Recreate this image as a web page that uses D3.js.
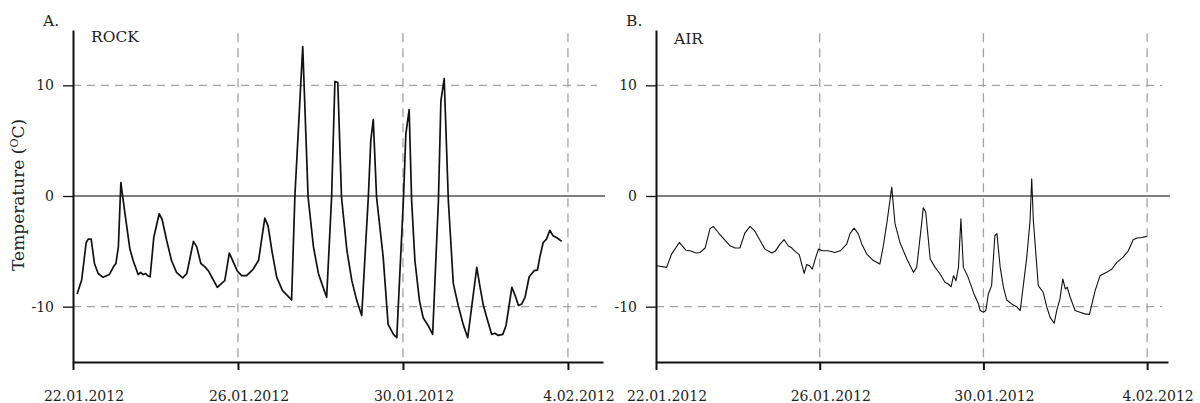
<!DOCTYPE html>
<html>
<head>
<meta charset="utf-8">
<script src="https://cdn.jsdelivr.net/npm/d3@7"></script>
<style>
  body { margin: 0; background: #fff; }
  svg { display: block; font-family: "DejaVu Serif", serif; }
  .axis path, .axis line { stroke: #111; }
  .axis text { font-family: "DejaVu Serif", serif; fill: #222; }
</style>
</head>
<body>
<script>
// days since 22.01.2012 (as spaced on the original axis) and temperature
var rockDay = [0.10,0.21,0.32,0.37,0.44,0.52,0.61,0.73,0.88,0.98,1.04,1.10,1.16,1.26,1.38,1.46,1.58,1.64,1.70,1.76,1.81,1.87,1.96,2.09,2.16,2.27,2.39,2.51,2.66,2.76,2.92,3.00,3.10,3.20,3.28,3.39,3.50,3.63,3.68,3.79,3.89,3.98,4.09,4.21,4.37,4.50,4.65,4.73,4.82,4.94,5.08,5.20,5.30,5.38,5.57,5.70,5.83,5.95,6.05,6.15,6.27,6.35,6.42,6.51,6.64,6.76,6.88,7.00,7.16,7.22,7.28,7.36,7.52,7.64,7.77,7.85,8.01,8.07,8.15,8.21,8.29,8.40,8.49,8.61,8.72,8.86,8.92,9.00,9.10,9.22,9.34,9.46,9.57,9.79,9.87,9.95,10.04,10.15,10.23,10.31,10.42,10.50,10.64,10.72,10.80,10.88,10.96,11.06,11.18,11.26,11.32,11.40,11.48,11.56,11.64,11.74,11.85];
var rockTemp = [-8.85,-7.6,-4.2,-3.9,-3.9,-6.1,-7.0,-7.35,-7.1,-6.4,-6.1,-4.6,1.2,-1.6,-4.8,-5.85,-7.1,-6.9,-7.1,-7.0,-7.2,-7.3,-3.7,-1.6,-2.1,-4.0,-5.85,-6.9,-7.4,-7.0,-4.1,-4.6,-6.1,-6.4,-6.75,-7.5,-8.25,-7.8,-7.65,-5.15,-6.0,-6.75,-7.2,-7.2,-6.6,-5.8,-2.0,-2.7,-4.9,-7.35,-8.55,-9.0,-9.4,0.0,13.5,-0.1,-4.6,-7.0,-8.1,-9.15,-0.1,10.35,10.25,-0.1,-4.9,-7.65,-9.45,-10.8,-0.1,5.0,6.9,-0.1,-5.5,-11.6,-12.5,-12.8,-0.4,5.6,7.8,-0.4,-5.85,-9.45,-11.0,-11.7,-12.5,-0.4,8.6,10.6,-0.4,-7.9,-9.9,-11.6,-12.8,-6.45,-8.25,-9.9,-11.1,-12.5,-12.4,-12.6,-12.5,-11.7,-8.25,-9.0,-9.9,-9.75,-9.15,-7.3,-6.75,-6.7,-5.5,-4.2,-3.9,-3.1,-3.6,-3.8,-4.1];

var airDay = [0.02,0.26,0.38,0.57,0.73,0.83,0.98,1.08,1.20,1.32,1.40,1.52,1.64,1.81,1.93,2.05,2.17,2.30,2.42,2.54,2.66,2.83,2.91,3.03,3.13,3.23,3.32,3.40,3.50,3.56,3.62,3.68,3.75,3.82,3.89,3.97,4.06,4.21,4.37,4.50,4.66,4.74,4.84,4.94,5.03,5.15,5.30,5.47,5.55,5.65,5.76,5.84,5.96,6.13,6.25,6.29,6.37,6.49,6.53,6.59,6.70,6.82,6.94,7.06,7.14,7.21,7.27,7.33,7.39,7.45,7.51,7.61,7.67,7.77,7.88,7.92,8.00,8.06,8.12,8.20,8.28,8.33,8.41,8.49,8.57,8.69,8.81,8.90,9.06,9.14,9.18,9.22,9.34,9.46,9.55,9.63,9.73,9.79,9.87,9.94,10.00,10.05,10.12,10.24,10.36,10.48,10.59,10.73,10.85,11.01,11.14,11.26,11.42,11.54,11.66,11.75,11.87,11.99];
var airTemp = [-6.3,-6.45,-5.25,-4.2,-4.9,-4.95,-5.15,-5.1,-4.7,-2.95,-2.75,-3.3,-3.8,-4.5,-4.7,-4.7,-3.35,-2.75,-3.2,-4.0,-4.8,-5.15,-5.0,-4.35,-3.95,-4.5,-4.7,-5.0,-5.3,-6.15,-7.0,-6.2,-6.3,-6.6,-5.7,-4.8,-4.95,-4.95,-5.1,-4.95,-4.35,-3.4,-2.9,-3.4,-4.35,-5.25,-5.8,-6.15,-4.6,-2.2,0.8,-2.5,-4.2,-5.7,-6.6,-6.9,-6.45,-2.5,-1.07,-1.45,-5.7,-6.45,-7.05,-7.8,-7.95,-8.2,-7.2,-7.65,-6.45,-2.05,-6.45,-7.2,-7.8,-8.85,-9.75,-10.35,-10.5,-10.35,-8.85,-8.1,-3.57,-3.4,-6.45,-8.25,-9.4,-9.75,-10.0,-10.35,-5.5,-2.2,1.55,-2.2,-8.1,-8.7,-10.05,-10.97,-11.5,-10.35,-9.3,-7.5,-8.4,-8.25,-9.15,-10.35,-10.5,-10.65,-10.7,-8.55,-7.2,-6.9,-6.6,-6.0,-5.5,-4.95,-3.95,-3.8,-3.75,-3.65];

var xTicks = [0, 4, 8, 12];
var xTickLabels = ["22.01.2012", "26.01.2012", "30.01.2012", "4.02.2012"];
var yTicks = [-10, 0, 10];
var yGrid = [-10, 10];

var width = 1200, height = 403;

var svg = d3
  .select("body")
  .append("svg")
  .attr("width", width)
  .attr("height", height);

// shared y scale
var y = d3.scaleLinear().domain([-15, 15]).range([362, 30]);

const drawPanel = (x, days, temps, letter, name, lineWidth) => {
  var g = svg.append("g");
  var x0 = x.range()[0], x1 = x.range()[1];

  // dashed grid
  g.selectAll(".vgrid")
    .data(xTicks.slice(1))
    .enter()
    .append("line")
    .attr("x1", (d) => x(d))
    .attr("x2", (d) => x(d))
    .attr("y1", y(14.7))
    .attr("y2", y(-15))
    .attr("stroke", "#a3a3a3")
    .attr("stroke-width", 1.3)
    .attr("stroke-dasharray", "9,6");

  g.selectAll(".hgrid")
    .data(yGrid)
    .enter()
    .append("line")
    .attr("x1", x0)
    .attr("x2", x1 - 6)
    .attr("y1", (d) => y(d))
    .attr("y2", (d) => y(d))
    .attr("stroke", "#a3a3a3")
    .attr("stroke-width", 1.3)
    .attr("stroke-dasharray", "8,6");

  // zero line
  g.append("line")
    .attr("x1", x0)
    .attr("x2", x1 + 2)
    .attr("y1", y(0))
    .attr("y2", y(0))
    .attr("stroke", "#555")
    .attr("stroke-width", 1.4);

  // axes
  var xAxis = g
    .append("g")
    .attr("class", "axis")
    .attr("transform", "translate(0," + y(-15) + ")")
    .call(
      d3.axisBottom(x)
        .tickValues(xTicks)
        .tickSize(8)
        .tickSizeOuter(0)
        .tickFormat((d, i) => xTickLabels[i])
    );
  xAxis.select(".domain").attr("stroke-width", 2.2);
  xAxis.selectAll(".tick line").attr("stroke-width", 2);
  xAxis.selectAll("text")
    .attr("font-size", 14)
    .attr("y", 39)
    .attr("dy", 0)
    .attr("dx", 10.5);

  var yAxis = g
    .append("g")
    .attr("class", "axis")
    .attr("transform", "translate(" + x0 + ",0)")
    .call(
      d3.axisLeft(y)
        .tickValues(yTicks)
        .tickSize(10)
        .tickSizeOuter(0)
        .tickPadding(9)
        .tickFormat((d) => String(d))
    );
  yAxis.select(".domain").attr("stroke-width", 2);
  yAxis.selectAll(".tick line").attr("stroke-width", 1.3);
  yAxis.selectAll("text").attr("font-size", 14);

  // series line
  var line = d3
    .line()
    .x((d, i) => x(days[i]))
    .y((d) => y(d));

  g.append("path")
    .datum(temps)
    .attr("fill", "none")
    .attr("stroke", "#111")
    .attr("stroke-width", lineWidth)
    .attr("stroke-linejoin", "round")
    .attr("d", line);

  // panel letter and name
  g.append("text")
    .attr("x", x0 - 30)
    .attr("y", 26)
    .attr("font-size", 15.5)
    .attr("fill", "#222")
    .text(letter);

  g.append("text")
    .attr("x", x0 + 18)
    .attr("y", name === "ROCK" ? 42 : 44)
    .attr("font-size", 15.5)
    .attr("fill", "#222")
    .text(name);
};

var xA = d3.scaleLinear().domain([0, 12.85]).range([73, 603]);
var xB = d3.scaleLinear().domain([0, 12.51]).range([656, 1168]);

drawPanel(xA, rockDay, rockTemp, "A.", "ROCK", 1.7);
drawPanel(xB, airDay, airTemp, "B.", "AIR", 1.1);

// y axis title
var ylab = svg
  .append("text")
  .attr("transform", "translate(24," + y(0.1) + ") rotate(-90)")
  .attr("text-anchor", "middle")
  .attr("font-size", 17)
  .attr("fill", "#222");
ylab.append("tspan").text("Temperature (");
ylab.append("tspan").attr("font-size", 11).attr("dy", -6).text("O");
ylab.append("tspan").attr("dy", 6).text("C)");
</script>
</body>
</html>
